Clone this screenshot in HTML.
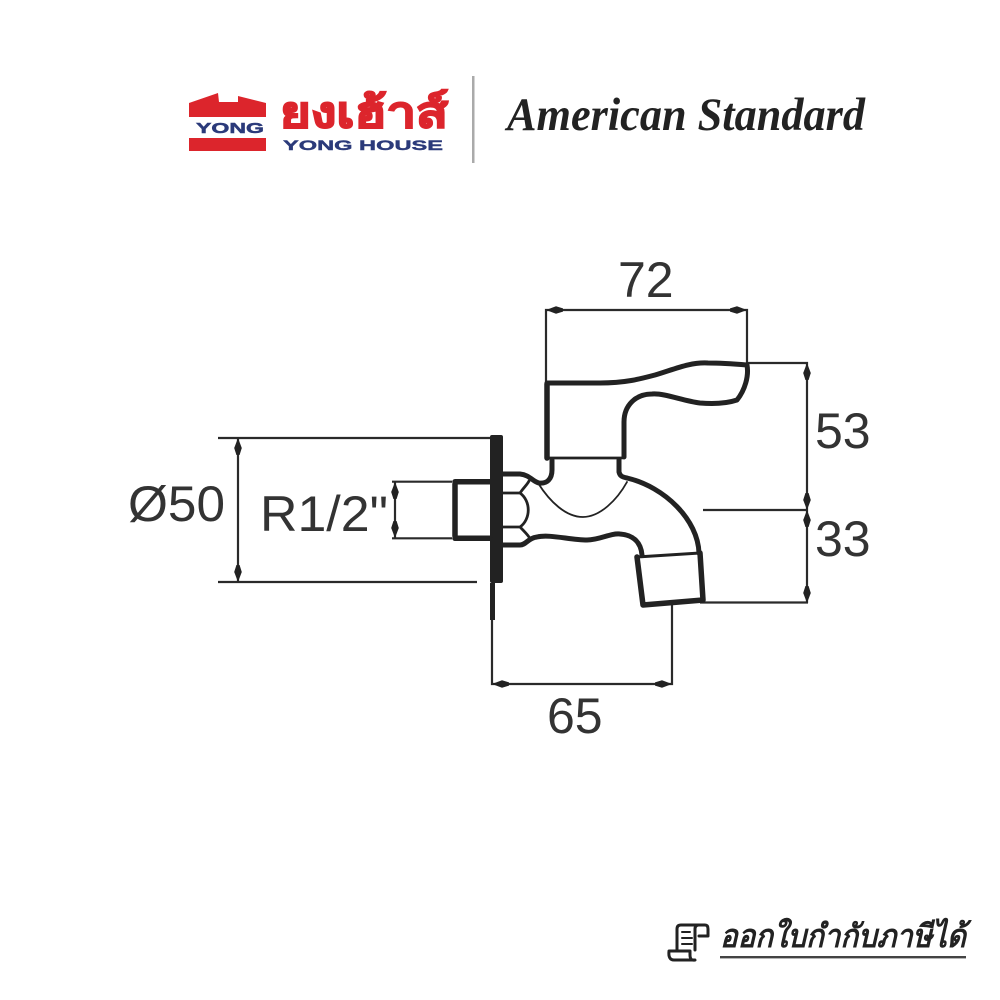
<!DOCTYPE html>
<html><head><meta charset="utf-8"><style>
html,body{margin:0;padding:0;background:#fff;width:1000px;height:1000px;overflow:hidden}
svg{display:block;filter:blur(.35px)}
text{font-family:"Liberation Sans","WenQuanYi Zen Hei","Noto Sans CJK SC",sans-serif}
</style></head><body>
<svg width="1000" height="1000" viewBox="0 0 1000 1000" xmlns="http://www.w3.org/2000/svg">
<defs>
<polygon id="au" points="0,0 3.8,10 1.6,17 -1.6,17 -3.8,10" fill="#222"/>
</defs>
<rect width="1000" height="1000" fill="#fff"/>
<!-- Yong House logo -->
<polygon points="189,103 218,93 219,102 238,102 238,96 266,103 266,117 189,117" fill="#dc252c"/>
<rect x="189" y="138" width="77" height="13" fill="#dc252c"/>
<text x="196" y="133" font-size="15" font-weight="700" fill="#2b3a7a" stroke="#2b3a7a" stroke-width=".5" textLength="68" lengthAdjust="spacingAndGlyphs">YONG</text>
<text x="280" y="127" font-size="42" font-weight="700" fill="#dc252c" stroke="#dc252c" stroke-width="1.6" textLength="168" lengthAdjust="spacingAndGlyphs">ยงเฮ้าส์</text>
<text x="283" y="150" font-size="14" font-weight="700" fill="#2b3a7a" stroke="#2b3a7a" stroke-width=".4" textLength="160" lengthAdjust="spacingAndGlyphs">YONG HOUSE</text>
<rect x="472" y="76" width="2.5" height="87" fill="#aaa"/>
<text x="507" y="130" font-size="47" font-weight="700" font-style="italic" fill="#222" style="font-family:'Liberation Serif',serif" textLength="358" lengthAdjust="spacingAndGlyphs">American Standard</text>
<!-- Dimension lines -->
<g stroke="#2a2a2a" stroke-width="2.2" fill="none">
<path d="M218 438H490M218 582H477M238 438V582"/>
<path d="M392 481.7H452M392 538.3H452M395 482V538"/>
<path d="M546 383V310H747V365M747 363H807V603M703 510H807M700 602.5H808"/>
<path d="M492 620V684H672V605"/>
</g>
<use href="#au" transform="translate(238,438)"/>
<use href="#au" transform="translate(238,582) rotate(180)"/>
<use href="#au" transform="translate(395,482)"/>
<use href="#au" transform="translate(395,538) rotate(180)"/>
<use href="#au" transform="translate(546,310) rotate(-90)"/>
<use href="#au" transform="translate(747,310) rotate(90)"/>
<use href="#au" transform="translate(807,363)"/>
<use href="#au" transform="translate(807,510) rotate(180)"/>
<use href="#au" transform="translate(807,510)"/>
<use href="#au" transform="translate(807,603) rotate(180)"/>
<use href="#au" transform="translate(492,684) rotate(-90)"/>
<use href="#au" transform="translate(672,684) rotate(90)"/>
<!-- Labels -->
<g font-size="50" fill="#333">
<text x="128" y="521" textLength="97" lengthAdjust="spacingAndGlyphs">Ø50</text>
<text x="260" y="531" textLength="128" lengthAdjust="spacingAndGlyphs">R1/2"</text>
<text x="618" y="297">72</text>
<text x="815" y="448">53</text>
<text x="815" y="556">33</text>
<text x="547" y="733">65</text>
</g>
<!-- Faucet -->
<g fill="none" stroke="#222" stroke-linecap="round" stroke-linejoin="round">
<rect x="490" y="435" width="13" height="148" rx="2" fill="#222" stroke="none"/>
<rect x="490" y="583" width="5" height="37" fill="#222" stroke="none"/>
<path stroke-width="5.5" d="M547 458V384"/>
<path stroke-width="5" d="M547 383H600C625 383 640 379 655 375C675 369 690 362 708 363C722 363 735 364 747 365C749 376 745 390 737 400C725 404 712 404 700 403C683 401 665 393 652 394C636 394 624 405 624 422V457"/>
<path stroke-width="2.8" d="M549 458H622"/>
<path stroke-width="5" d="M552 460V470C552 479 547 484 539 483C533 482 530 475 520 474H503"/>
<path stroke-width="5" d="M619 460V472C620 476 622 477 627 478C665 487 698 520 699 553"/>
<path stroke-width="1.8" d="M538 483C550 502 566 517 583 517C600 517 617 500 627 482"/>
<path stroke-width="5" d="M503 545H520C526 545 528 538 537 537C550 534 570 540 587 540C600 540 610 533 620 534C634 535 641 543 642 555"/>
<path stroke-width="2.8" d="M503 493H520M503 527H520M520 493C524 487 527 485 529 481M520 493C531 501 531 519 520 527M520 527C524 531 527 534 529 537"/>
<path stroke-width="5.5" d="M455 481.7H490M455 538.3H490M455 484V536"/>
<path stroke-width="3" d="M637 557 700 553"/>
<path stroke-width="5.5" d="M637 557 643 605 703 600 700 553"/>
</g>
<!-- Bottom note -->
<g fill="none" stroke="#222" stroke-width="3" stroke-linejoin="round" stroke-linecap="round">
<path d="M677 951V929Q677 925 681 925H705Q708 925 708 929V936H699M699 925Q695 925 695 929V950"/>
<path d="M669 951H690V955Q690 961 695 960H674Q668 960 669 951Z"/>
<path d="M682 932H690M682 938H692M682 944H692" stroke-width="2"/>
</g>
<text x="720" y="947" font-size="32" font-weight="700" font-style="italic" fill="#222" textLength="246" lengthAdjust="spacingAndGlyphs">ออกใบกำกับภาษีได้</text>
<rect x="720" y="956" width="246" height="2.4" fill="#444"/>
</svg>
</body></html>
